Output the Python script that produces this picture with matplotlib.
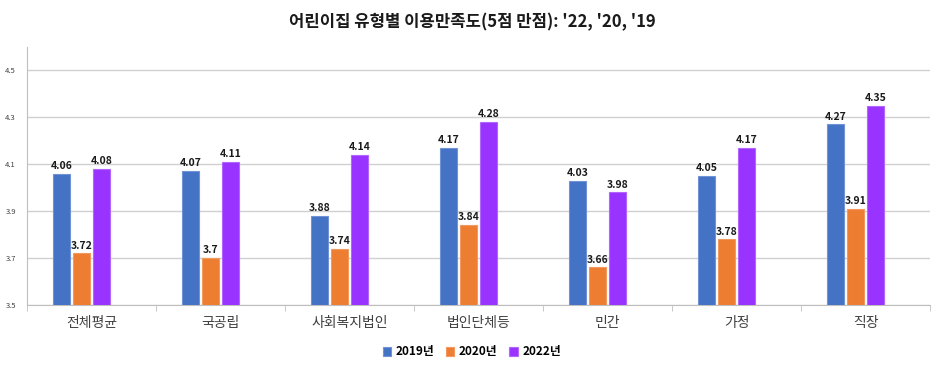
import matplotlib
matplotlib.use("Agg")
import matplotlib.pyplot as plt
import numpy as np

plt.rcParams['font.family'] = ['Noto Sans CJK KR', 'DejaVu Sans']

categories = ['전체평균', '국공립', '사회복지법인', '법인단체등', '민간', '가정', '직장']
series_names = ['2019년', '2020년', '2022년']
v2019 = [4.06, 4.07, 3.88, 4.17, 4.03, 4.05, 4.27]
v2020 = [3.72, 3.70, 3.74, 3.84, 3.66, 3.78, 3.91]
v2022 = [4.08, 4.11, 4.14, 4.28, 3.98, 4.17, 4.35]
labels2019 = ['4.06', '4.07', '3.88', '4.17', '4.03', '4.05', '4.27']
labels2020 = ['3.72', '3.7', '3.74', '3.84', '3.66', '3.78', '3.91']
labels2022 = ['4.08', '4.11', '4.14', '4.28', '3.98', '4.17', '4.35']
yticks = [3.5, 3.7, 3.9, 4.1, 4.3, 4.5]
colors = ['#4472C4', '#ED7D31', '#9933FF']
edges = ['#6F93D6', '#F29A5E', '#B366FF']

fig = plt.figure(figsize=(9.4, 3.69), dpi=100)
ax = fig.add_axes([27/940, 1-305/369, (930-27)/940, (305-47)/369])

x = np.arange(len(categories))
w = 0.136
step = 0.155
all_vals = [v2019, v2020, v2022]
all_labels = [labels2019, labels2020, labels2022]
for i, (vals, labs) in enumerate(zip(all_vals, all_labels)):
    pos = x + (i - 1.5) * step
    ax.bar(pos, np.array(vals) - 3.5, bottom=3.5, width=w, color=colors[i],
           edgecolor=edges[i], linewidth=0.8, label=series_names[i], zorder=3)
    for p, v, l in zip(pos, vals, labs):
        ax.text(p, v + 0.012, l, ha='center', va='bottom', fontsize=7.5,
                fontweight='bold', color='#1a1a1a', zorder=4)

ax.set_xlim(-0.5, len(categories) - 0.5)
ax.set_ylim(3.5, 4.6)
ax.set_yticks(yticks)
ax.set_yticklabels([f'{t:.1f}' for t in yticks], fontsize=5.5, color='#404040')
ax.yaxis.set_tick_params(length=0, pad=8)
ax.set_xticks(x)
ax.set_xticklabels(categories, fontsize=10, color='#404040')
ax.set_xticks(np.arange(-0.5, len(categories)), minor=True)
ax.tick_params(axis='x', which='major', length=0, pad=8)
ax.tick_params(axis='x', which='minor', length=4, color='#BFBFBF', direction='out')
ax.grid(axis='y', color='#D0D0D0', linewidth=1, zorder=0)
for s in ['top', 'right']:
    ax.spines[s].set_visible(False)
ax.spines['left'].set_color('#BFBFBF')
ax.spines['bottom'].set_color('#BFBFBF')

fig.text(0.503, 1 - 22/369, "어린이집 유형별 이용만족도(5점 만점): '22, '20, '19",
         ha='center', va='center', fontsize=12, fontweight='bold', color='#1a1a1a')

fig.legend(loc='center', bbox_to_anchor=(0.502, 1 - 352/369), ncol=3, frameon=False,
           prop={'size': 8.5, 'weight': 'bold'}, handlelength=0.7, handleheight=0.7,
           handletextpad=0.4, columnspacing=1.0)

fig.savefig('out.png', dpi=100)
